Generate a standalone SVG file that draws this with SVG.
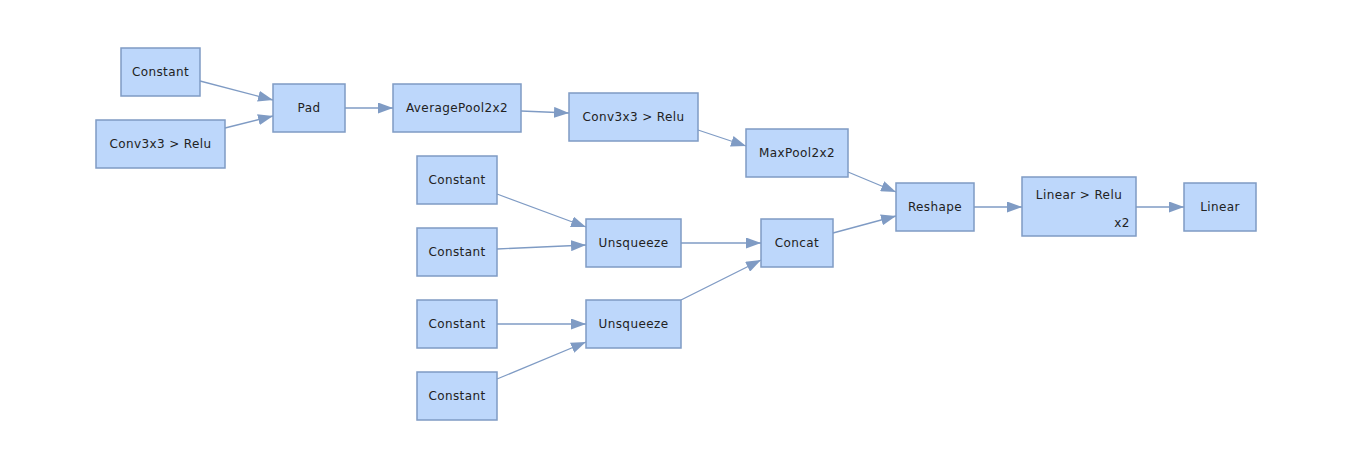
<svg xmlns="http://www.w3.org/2000/svg" width="1352" height="468" viewBox="0 0 1352 468">
<style>
.n rect{fill:#bdd7fb;stroke:#7f9bc4;stroke-width:1.5}
.n text{font-family:"DejaVu Sans",Verdana,sans-serif;font-size:12px;letter-spacing:0.4px;fill:#222;text-anchor:middle}
.e line{stroke:#7f9bc4;stroke-width:1.3;marker-end:url(#ah)}
</style>
<defs>
<marker id="ah" viewBox="0 0 15 11" refX="15" refY="5.5" markerWidth="15" markerHeight="11" markerUnits="userSpaceOnUse" orient="auto">
<path d="M0,0 L15,5.5 L0,11 Z" fill="#7f9bc4"/>
</marker>
</defs>
<rect width="1352" height="468" fill="#fff"/>
<g id="edges" class="e">
<line x1="200" y1="81" x2="273" y2="100"/>
<line x1="225" y1="128" x2="273" y2="116"/>
<line x1="345" y1="108" x2="393" y2="108"/>
<line x1="521" y1="111" x2="569" y2="113"/>
<line x1="698" y1="130" x2="746" y2="146"/>
<line x1="848" y1="172" x2="896" y2="192"/>
<line x1="833" y1="233" x2="896" y2="216"/>
<line x1="974" y1="207" x2="1022" y2="207"/>
<line x1="1136" y1="207" x2="1184" y2="207"/>
<line x1="497" y1="194" x2="586" y2="227"/>
<line x1="497" y1="249" x2="586" y2="245"/>
<line x1="681" y1="243" x2="761" y2="243"/>
<line x1="497" y1="324" x2="586" y2="324"/>
<line x1="497" y1="379" x2="586" y2="342"/>
<line x1="681" y1="300" x2="761" y2="260"/>
</g>
<g id="constant1" class="n"><rect x="121" y="48" width="79" height="48"/><text x="160.5" y="76">Constant</text></g>
<g id="conv1" class="n"><rect x="96" y="120" width="129" height="48"/><text x="160.5" y="148">Conv3x3 &gt; Relu</text></g>
<g id="pad" class="n"><rect x="273" y="84" width="72" height="48"/><text x="309" y="112">Pad</text></g>
<g id="avgpool" class="n"><rect x="393" y="84" width="128" height="48"/><text x="457" y="112">AveragePool2x2</text></g>
<g id="conv2" class="n"><rect x="569" y="93" width="129" height="48"/><text x="633.5" y="121">Conv3x3 &gt; Relu</text></g>
<g id="maxpool" class="n"><rect x="746" y="129" width="102" height="48"/><text x="797" y="157">MaxPool2x2</text></g>
<g id="reshape" class="n"><rect x="896" y="183" width="78" height="48"/><text x="935" y="211">Reshape</text></g>
<g id="linrelu" class="n"><rect x="1022" y="177" width="114" height="59"/><text x="1079" y="199">Linear &gt; Relu</text><text x="1122" y="227">x2</text></g>
<g id="linear" class="n"><rect x="1184" y="183" width="72" height="48"/><text x="1220" y="211">Linear</text></g>
<g id="constant2" class="n"><rect x="417" y="156" width="80" height="48"/><text x="457" y="184">Constant</text></g>
<g id="constant3" class="n"><rect x="417" y="228" width="80" height="48"/><text x="457" y="256">Constant</text></g>
<g id="constant4" class="n"><rect x="417" y="300" width="80" height="48"/><text x="457" y="328">Constant</text></g>
<g id="constant5" class="n"><rect x="417" y="372" width="80" height="48"/><text x="457" y="400">Constant</text></g>
<g id="unsq1" class="n"><rect x="586" y="219" width="95" height="48"/><text x="633.5" y="247">Unsqueeze</text></g>
<g id="unsq2" class="n"><rect x="586" y="300" width="95" height="48"/><text x="633.5" y="328">Unsqueeze</text></g>
<g id="concat" class="n"><rect x="761" y="219" width="72" height="48"/><text x="797" y="247">Concat</text></g>
</svg>
